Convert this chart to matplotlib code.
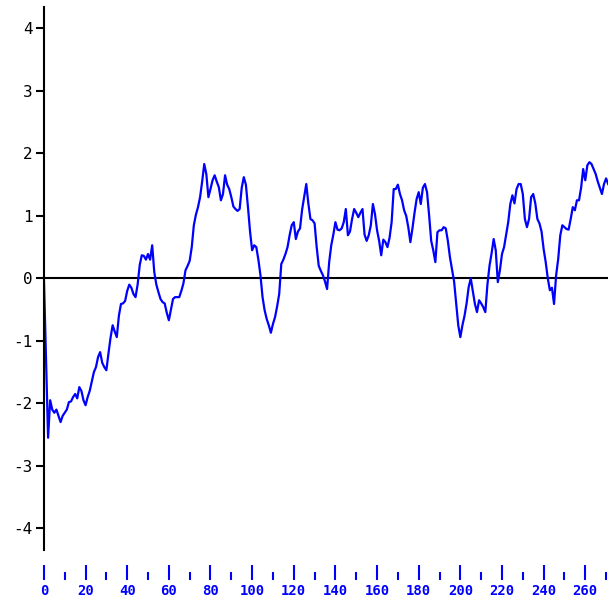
import numpy as np
import matplotlib
matplotlib.use("Agg")
import matplotlib.pyplot as plt
from matplotlib.ticker import MultipleLocator

# values, one per step 0..271
values = [
    0.0, -1.25, -2.55, -1.95, -2.1, -2.15, -2.1, -2.2, -2.3, -2.2,
    -2.15, -2.1, -1.98, -1.97, -1.9, -1.85, -1.92, -1.74, -1.8, -1.95,
    -2.03, -1.9, -1.8, -1.65, -1.5, -1.42, -1.26, -1.18, -1.35, -1.42,
    -1.47, -1.2, -0.95, -0.75, -0.85, -0.94, -0.6, -0.41, -0.4, -0.36,
    -0.2, -0.1, -0.15, -0.25, -0.3, -0.1, 0.21, 0.37, 0.36, 0.3,
    0.39, 0.3, 0.53, 0.1, -0.1, -0.22, -0.33, -0.38, -0.4, -0.55,
    -0.67, -0.5, -0.33, -0.3, -0.3, -0.3, -0.2, -0.08, 0.13, 0.2,
    0.28, 0.5, 0.85, 1.02, 1.14, 1.3, 1.55, 1.83, 1.67, 1.3,
    1.43, 1.57, 1.65, 1.55, 1.46, 1.25, 1.35, 1.65, 1.5, 1.43,
    1.3, 1.15, 1.11, 1.08, 1.11, 1.45, 1.62, 1.5, 1.14, 0.75,
    0.45, 0.53, 0.5, 0.3, 0.05, -0.3, -0.51, -0.65, -0.75, -0.87,
    -0.73, -0.62, -0.45, -0.25, 0.23, 0.3, 0.39, 0.5, 0.69, 0.85,
    0.9, 0.63, 0.75, 0.8, 1.1, 1.3, 1.51, 1.2, 0.95, 0.93,
    0.88, 0.5, 0.2, 0.12, 0.05, -0.05, -0.17, 0.26, 0.53, 0.7,
    0.9, 0.78, 0.77, 0.8, 0.9, 1.11, 0.69, 0.75, 0.95, 1.11,
    1.05, 0.98, 1.05, 1.11, 0.7, 0.6, 0.69, 0.85, 1.19, 1.03,
    0.77, 0.6, 0.37, 0.62, 0.58, 0.5, 0.65, 0.9, 1.43, 1.43,
    1.5, 1.35, 1.25, 1.09, 1.0, 0.82, 0.58, 0.8, 1.05, 1.27,
    1.38, 1.19, 1.45, 1.51, 1.38, 1.01, 0.6, 0.45, 0.26, 0.74,
    0.77, 0.77, 0.82, 0.8, 0.6, 0.34, 0.15, -0.05, -0.4, -0.75,
    -0.94, -0.75, -0.6, -0.4, -0.14, 0.0, -0.2, -0.41, -0.54, -0.35,
    -0.4, -0.46, -0.54, -0.1, 0.2, 0.4, 0.63, 0.45, -0.06, 0.13,
    0.39, 0.5, 0.7, 0.9, 1.19, 1.33, 1.2, 1.43, 1.51, 1.51,
    1.35, 0.95, 0.82, 0.95, 1.3, 1.35, 1.2, 0.95, 0.88, 0.75,
    0.47, 0.26, 0.0, -0.19, -0.15, -0.41, 0.05, 0.31, 0.69, 0.85,
    0.82, 0.79, 0.78, 0.95, 1.14, 1.09, 1.25, 1.25, 1.45, 1.75,
    1.57, 1.81, 1.86, 1.83, 1.75, 1.67, 1.55, 1.45, 1.35, 1.51,
    1.6, 1.51,
]
steps = np.arange(len(values))
y_ticks = [-4, -3, -2, -1, 0, 1, 2, 3, 4]

fig = plt.figure(figsize=(6.1, 6.0), dpi=100)
ax = fig.add_axes([0.072, 0.083, 0.925, 0.905])

ax.axhline(0, color="black", lw=1.5, zorder=1)
ax.plot(steps, values, color="#0000ff", lw=1.6, zorder=2)

ax.set_xlim(0, 271)
ax.set_ylim(-4.35, 4.34)

# left axis
for s in ["top", "right"]:
    ax.spines[s].set_visible(False)
ax.spines["left"].set_linewidth(1.5)
ax.set_yticks(y_ticks)
ax.set_yticklabels([str(t) for t in y_ticks], family="DejaVu Sans Mono", fontsize=11.5)
ax.tick_params(axis="y", direction="out", length=6, width=1.5, pad=2, colors="black")

# bottom axis: blue ticks below the plot, no line
ax.spines["bottom"].set_position(("outward", 21.6))
ax.spines["bottom"].set_visible(False)
ax.xaxis.set_major_locator(MultipleLocator(20))
ax.xaxis.set_minor_locator(MultipleLocator(10))
ax.tick_params(axis="x", which="major", direction="in", length=10.8, width=1.5,
               pad=3, colors="#0000ff", labelsize=10)
ax.tick_params(axis="x", which="minor", direction="in", length=5.8, width=1.5,
               colors="#0000ff")
for lab in ax.get_xticklabels():
    lab.set_family("DejaVu Sans Mono")
    lab.set_fontweight("bold")

fig.savefig("out.png", dpi=100)
